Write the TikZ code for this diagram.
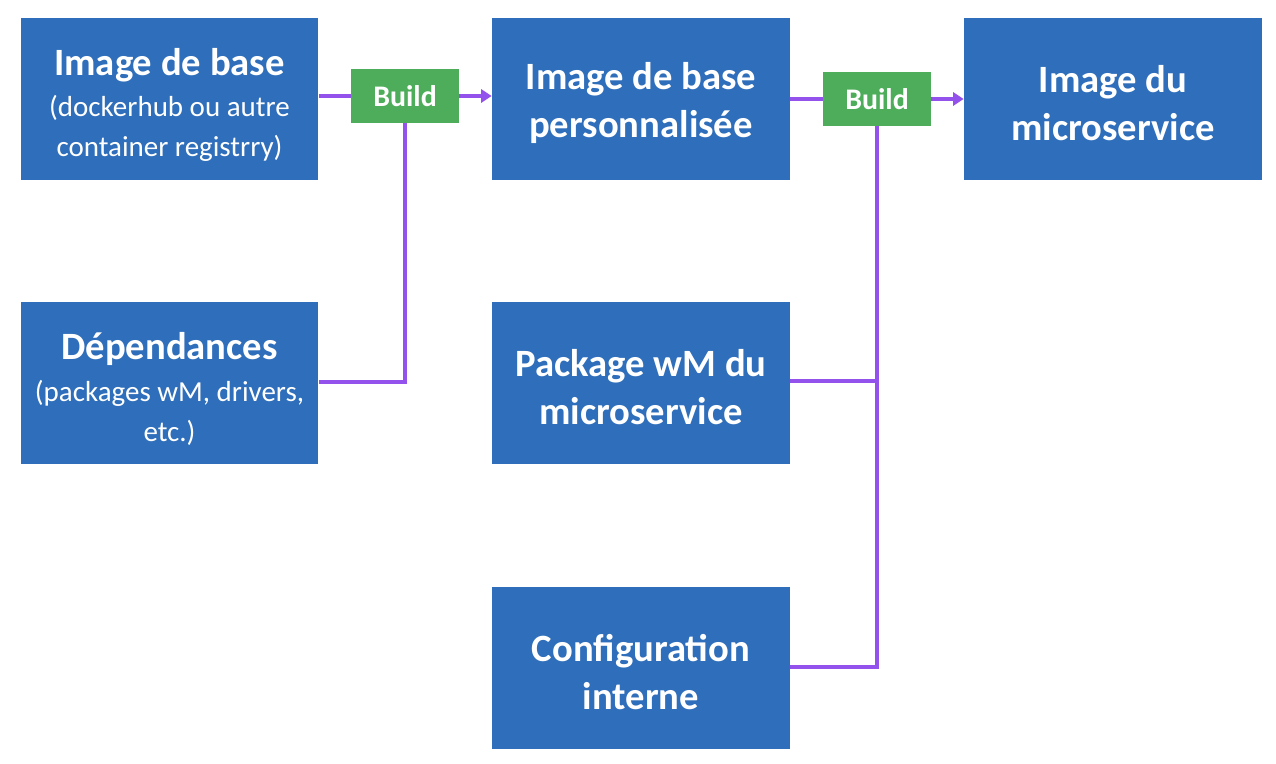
\documentclass[tikz,border=0pt]{standalone}
\usepackage{fontspec}
\setmainfont{Carlito}
\usetikzlibrary{arrows.meta}
\definecolor{boxblue}{HTML}{2E6EBA}
\definecolor{buildgreen}{HTML}{4EAD5B}
\definecolor{linkpurple}{HTML}{9452EC}
\newcommand{\hautA}{\rule{0pt}{22pt}}
\newcommand{\hautB}{\rule{0pt}{20pt}}

\begin{document}
\begin{tikzpicture}[x=0.02cm,y=-0.02cm,
  bloc/.style={fill=boxblue,text=white,minimum width=5.96cm,minimum height=3.24cm,align=center,inner sep=0pt,font=\fontsize{16.5}{22.7}\selectfont},
  build/.style={fill=buildgreen,text=white,minimum width=2.16cm,minimum height=1.08cm,inner sep=0pt,font=\fontsize{17}{20}\selectfont\bfseries},
  link/.style={draw=linkpurple,line width=2.1pt},
  titre/.style={font=\fontsize{22}{27.5}\selectfont\bfseries}]
\useasboundingbox (0,0) rectangle (1276,764);

\node[bloc] (base) at (169.5,99) {\hautA{\fontsize{22}{24}\selectfont\bfseries Image de base}\\[1pt](dockerhub ou autre\\container registrry)};
\node[bloc] (dep) at (169.5,383) {\hautA{\fontsize{22}{24}\selectfont\bfseries Dépendances}\\[1pt](packages wM, drivers,\\etc.)};
\node[bloc,titre] (perso) at (641,99) {\hautB Image de base\\personnalisée};
\node[bloc,titre] (pkg) at (641,383) {\hautB Package wM du\\microservice};
\node[bloc,titre] (conf) at (641,668) {\hautB Configuration\\interne};
\node[bloc,titre] (micro) at (1113,99) {\hautB Image du\\microservice};

\node[build] (b1) at (405,96) {Build};
\node[build] (b2) at (877,99) {Build};

\draw[link] (base.east |- b1) -- (b1.west);
\draw[link,-{Triangle[length=6pt,width=7.5pt]}] (b1.east) -- (perso.west |- b1);
\draw[link] (dep.east |- 0,382) -| (b1.south);

\draw[link] (perso.east |- b2) -- (b2.west);
\draw[link,-{Triangle[length=6pt,width=7.5pt]}] (b2.east) -- (micro.west |- b2);
\draw[link] (b2.south) |- (conf.east |- 0,667);
\draw[link] (pkg.east |- 0,381) -- (b2.south |- 0,381);
\end{tikzpicture}
\end{document}
